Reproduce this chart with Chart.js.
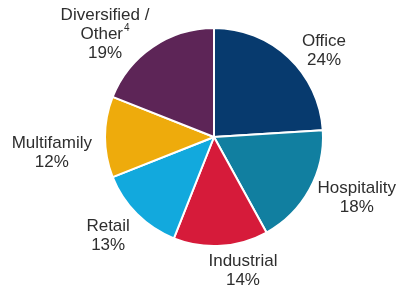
<!DOCTYPE html>
<html><head><meta charset="utf-8">
<script src="https://cdn.jsdelivr.net/npm/chart.js@4/dist/chart.umd.min.js"></script>
<style>html,body{margin:0;padding:0;background:#fff;}#wrap{width:398px;height:292px;}</style>
</head><body><div id="wrap"><canvas id="c" width="398" height="292"></canvas></div>
<script>
const categories = ["Office", "Hospitality", "Industrial", "Retail", "Multifamily", "Diversified / Other"];
const shares = [24, 18, 14, 13, 12, 19];
const percentLabels = ["24%", "18%", "14%", "13%", "12%", "19%"];
const colors = ["#073a6e", "#117fa0", "#d61b3a", "#12a9dd", "#eeab0c", "#5d2557"];

// label lines (name lines + percentage); superscript handled separately
const nameLines = [["Office"], ["Hospitality"], ["Industrial"], ["Retail"], ["Multifamily"], ["Diversified /", "Other"]];
const superscripts = [null, null, null, null, null, "4"];
// label placement style: distance factor (×radius) and angle shift (deg)
const labelDist = [1.284, 1.422, 1.257, 1.33, 1.495, 1.376];
const labelShift = [8.6, -5.9, -8.6, 1.9, -5.6, -12.4];

const FONT = '17px "Liberation Sans", Arial, sans-serif';
const SUPFONT = '10px "Liberation Sans", Arial, sans-serif';
const LH = 19;

const labelPlugin = {
  id: 'outerLabels',
  afterDatasetsDraw(chart) {
    const ctx = chart.ctx;
    const meta = chart.getDatasetMeta(0);
    ctx.save();
    ctx.fillStyle = '#2e2e2e';
    ctx.textBaseline = 'middle';
    meta.data.forEach((arc, i) => {
      const p = arc.getProps(['x', 'y', 'startAngle', 'endAngle', 'outerRadius'], true);
      const mid = (p.startAngle + p.endAngle) / 2 + labelShift[i] * Math.PI / 180;
      const d = p.outerRadius * labelDist[i];
      const cx = p.x + Math.cos(mid) * d;
      const cy = p.y + Math.sin(mid) * d;
      const lines = nameLines[i].concat([percentLabels[i]]);
      const n = lines.length;
      lines.forEach((t, k) => {
        const ly = cy + (k - (n - 1) / 2) * LH;
        const isSupLine = superscripts[i] && k === nameLines[i].length - 1;
        ctx.font = FONT;
        if (isSupLine) {
          const w1 = ctx.measureText(t).width;
          ctx.font = SUPFONT;
          const w2 = ctx.measureText(superscripts[i]).width + 1;
          const x0 = cx - (w1 + w2) / 2;
          ctx.font = FONT;
          ctx.textAlign = 'left';
          ctx.fillText(t, x0, ly);
          ctx.font = SUPFONT;
          ctx.fillText(superscripts[i], x0 + w1 + 1, ly - 6);
        } else {
          ctx.textAlign = 'center';
          ctx.fillText(t, cx, ly);
        }
      });
    });
    ctx.restore();
  }
};

new Chart(document.getElementById('c'), {
  type: 'pie',
  data: {
    labels: categories,
    datasets: [{
      data: shares,
      backgroundColor: colors,
      borderColor: '#ffffff',
      borderWidth: 2,
      hoverOffset: 0,
      offset: 0
    }]
  },
  options: {
    responsive: false,
    animation: false,
    events: [],
    layout: { padding: { left: 104, right: 74, top: 27, bottom: 45 } },
    plugins: { legend: { display: false }, tooltip: { enabled: false } }
  },
  plugins: [labelPlugin]
});
</script>
</body></html>
